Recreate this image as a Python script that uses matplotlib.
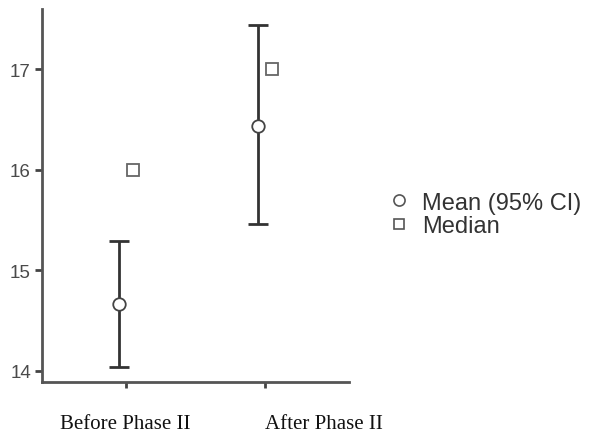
import matplotlib
matplotlib.use("Agg")
import matplotlib.pyplot as plt
import matplotlib.transforms as mtransforms
from matplotlib.lines import Line2D

categories = ["Before Phase II", "After Phase II"]
means = [14.67, 16.44]
ci_low = [14.04, 15.46]
ci_high = [15.29, 17.44]
medians = [16, 17]
yticks = [14, 15, 16, 17]

fig = plt.figure(figsize=(5.9, 4.35), dpi=100)
ax = fig.add_axes([0.0712, 0.1195, 0.5203, 0.8575])

pos = list(range(len(categories)))
off = 0.05
mx = [p - off for p in pos]
dx = [p + off for p in pos]
yerr = [[m - l for m, l in zip(means, ci_low)], [h - m for m, h in zip(means, ci_high)]]
ax.errorbar(mx, means, yerr=yerr, fmt='none', ecolor='#333333', elinewidth=2,
            capsize=7, capthick=2, zorder=2)
ax.plot(mx, means, 'o', ms=9, mfc='white', mec='#444444', mew=1.3, ls='none', zorder=3)
ax.plot(dx, medians, 's', ms=8, mfc='white', mec='#666666', mew=1.3, ls='none', zorder=3)

ax.set_xlim(-0.6, 1.6)
ax.set_ylim(13.89, 17.6)
ax.set_yticks(yticks)
ax.set_yticklabels([str(t) for t in yticks], fontsize=13.5, color='#4a4a4a',
                   fontfamily='Liberation Sans')
ax.set_xticks(pos)
ax.set_xticklabels(categories, fontsize=15, color='#111111', fontfamily='Liberation Serif')
ax.tick_params(axis='y', length=5, width=2, color='#444444', pad=3)
ax.tick_params(axis='x', length=4, width=2, color='#444444', pad=19)

# second category label sits to the right of its tick in the reference
lbl = ax.get_xticklabels()[1]
lbl.set_horizontalalignment('left')
lbl.set_transform(lbl.get_transform() + mtransforms.ScaledTranslation(0.0, 0, fig.dpi_scale_trans))

for s in ['top', 'right']:
    ax.spines[s].set_visible(False)
for s in ['left', 'bottom']:
    ax.spines[s].set_color('#555555')
    ax.spines[s].set_linewidth(2)

handles = [Line2D([], [], marker='o', ls='none', ms=8, mfc='white', mec='#555555', mew=1.2),
           Line2D([], [], marker='s', ls='none', ms=7, mfc='white', mec='#555555', mew=1.2)]
fig.legend(handles, ["Mean (95% CI)", "Median"], loc='center left',
           bbox_to_anchor=(0.62, 0.505), frameon=False,
           prop={'family': 'Liberation Sans', 'size': 17}, labelcolor='#333333',
           handletextpad=0.5, labelspacing=0.05, handlelength=1.0)

fig.savefig("out.png", dpi=100)
